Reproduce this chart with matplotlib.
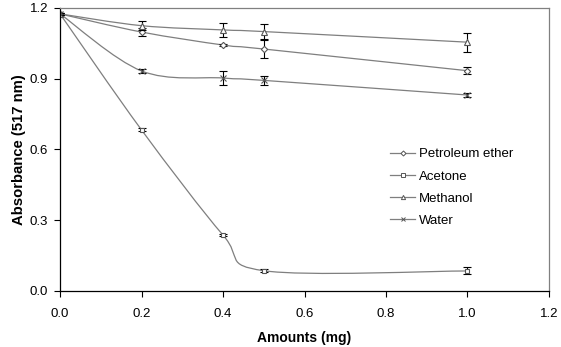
import matplotlib.pyplot as plt
import numpy as np
from matplotlib.path import Path
from matplotlib.patches import PathPatch
from matplotlib.lines import Line2D

plt.rcParams['font.family'] = ['Liberation Sans', 'DejaVu Sans']

amounts = [0.0, 0.2, 0.4, 0.5, 1.0]

petroleum = [1.175, 1.098, 1.043, 1.026, 0.934]
petroleum_err = [0.005, 0.015, 0.006, 0.04, 0.016]

acetone = [1.175, 0.683, 0.237, 0.086, 0.085]
acetone_err = [0.005, 0.006, 0.005, 0.006, 0.015]

methanol = [1.175, 1.125, 1.107, 1.100, 1.055]
methanol_err = [0.005, 0.02, 0.03, 0.03, 0.04]

water = [1.175, 0.933, 0.903, 0.893, 0.831]
water_err = [0.005, 0.008, 0.03, 0.02, 0.008]

labels = ["Petroleum ether", "Acetone", "Methanol", "Water"]
markers = ["D", "s", "^", "x"]
msizes = [3.2, 3.2, 3.8, 4.2]

line_col = "#7f7f7f"


def smooth_path(x, y):
    # Excel-style smoothed line: Catmull-Rom as cubic Bezier segments
    pts = np.column_stack([x, y])
    verts = [pts[0]]
    codes = [Path.MOVETO]
    n = len(pts)
    for i in range(n - 1):
        p0 = pts[i - 1] if i > 0 else pts[i]
        p1 = pts[i]
        p2 = pts[i + 1]
        p3 = pts[i + 2] if i + 2 < n else pts[i + 1]
        c1 = p1 + (p2 - p0) / 6.0
        c2 = p2 - (p3 - p1) / 6.0
        verts += [c1, c2, p2]
        codes += [Path.CURVE4] * 3
    return Path(verts, codes)


fig = plt.figure(figsize=(5.61, 3.47), dpi=100)
ax = fig.add_axes([0.107, 0.1614, 0.8716, 0.8156])

series = [(petroleum, petroleum_err), (acetone, acetone_err),
          (methanol, methanol_err), (water, water_err)]

handles = []
for (vals, errs), lab, mk, ms in zip(series, labels, markers, msizes):
    ax.add_patch(PathPatch(smooth_path(amounts, vals), fill=False,
                           edgecolor=line_col, lw=0.9))
    ax.errorbar(amounts, vals, yerr=errs, fmt="none", ecolor="black",
                elinewidth=0.8, capsize=3, capthick=0.8)
    ax.plot(amounts, vals, linestyle="none", marker=mk, markersize=ms,
            markerfacecolor="white", markeredgecolor="#555555",
            markeredgewidth=0.8)
    handles.append(Line2D([], [], color=line_col, lw=0.9, marker=mk,
                          markersize=ms * 0.8, markerfacecolor="white",
                          markeredgecolor="#555555", markeredgewidth=0.7))

ax.set_xlim(0, 1.2)
ax.set_ylim(0, 1.2)
ax.set_xticks(np.arange(0, 1.21, 0.2))
ax.set_yticks(np.arange(0, 1.21, 0.3))
ax.set_xticklabels(["%.1f" % v for v in np.arange(0, 1.21, 0.2)])
ax.set_yticklabels(["%.1f" % v for v in np.arange(0, 1.21, 0.3)])
ax.tick_params(labelsize=9.5, direction="out", length=4, width=0.8)
ax.tick_params(axis="x", pad=8)
ax.tick_params(axis="y", pad=4.5)

ax.spines["top"].set_color("#808080")
ax.spines["right"].set_color("#808080")
for s in ax.spines.values():
    s.set_linewidth(0.9)

ax.set_xlabel("Amounts (mg)", fontsize=10, fontweight="bold", labelpad=8)
ax.set_ylabel("Absorbance (517 nm)", fontsize=10.7, fontweight="bold", labelpad=3)

ax.legend(handles, labels, loc="upper left", bbox_to_anchor=(0.675, 0.505),
          frameon=False, fontsize=9.5, handlelength=1.9, labelspacing=0.76,
          handletextpad=0.3, borderpad=0, borderaxespad=0)

fig.savefig("out.png", dpi=100)
